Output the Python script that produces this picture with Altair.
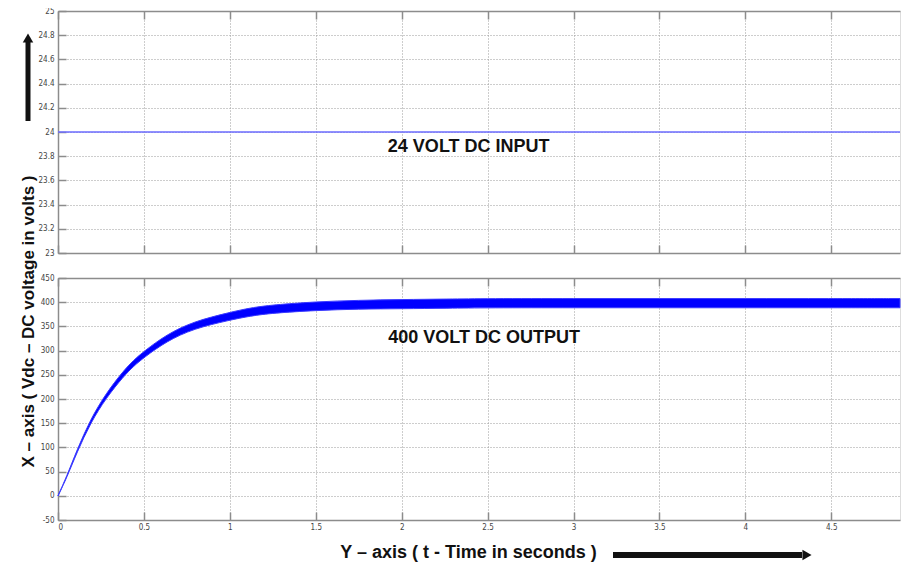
import altair as alt
import pandas as pd

# ---- data ----
t_out = [0, 0.05, 0.11, 0.19, 0.28, 0.38, 0.44, 0.5, 0.63, 0.79, 1.0, 1.12, 1.25, 1.5,
         1.75, 2.0, 2.27, 2.5, 3.0, 3.5, 4.0, 4.5, 4.9]
v_out = [0, 38, 92, 155, 207, 252, 274, 292, 326, 353, 371, 380, 386, 392,
         395, 396, 397, 398, 398, 398, 398, 398, 398]
ripple = [0.5, 1.5, 2.5, 4, 5, 6, 6.2, 6.5, 7, 7.5, 8, 8.5, 8.5, 9,
          9, 9.5, 9.5, 9.5, 9.5, 9.5, 9.5, 9.5, 9.5]

t_in = [0, 4.9]
v_in = [24, 24]

x_ticks = [0, 0.5, 1, 1.5, 2, 2.5, 3, 3.5, 4, 4.5]
y_ticks_top = [23, 23.2, 23.4, 23.6, 23.8, 24, 24.2, 24.4, 24.6, 24.8, 25]
y_ticks_bot = [-50, 0, 50, 100, 150, 200, 250, 300, 350, 400, 450]

label_in = ["24 VOLT DC INPUT"]
label_in_t = [2.39]
label_in_v = [23.88]
label_out = ["400 VOLT DC OUTPUT"]
label_out_t = [2.48]
label_out_v = [326]

y_title = "X – axis ( Vdc – DC voltage in volts )"
x_title = "Y – axis ( t - Time in seconds )"

# ---- tables ----
df_out = pd.DataFrame({
    "t": t_out,
    "lo": [v - r for v, r in zip(v_out, ripple)],
    "hi": [v + r for v, r in zip(v_out, ripple)],
})
df_in = pd.DataFrame({"t": t_in, "v": v_in})
df_lab_in = pd.DataFrame({"t": label_in_t, "v": label_in_v, "s": label_in})
df_lab_out = pd.DataFrame({"t": label_out_t, "v": label_out_v, "s": label_out})
one = pd.DataFrame({"a": [0]})

W, H = 842, 242
XDOM = [0, 4.9]
LABFONT = "DejaVu Sans Condensed, Liberation Sans Narrow, sans-serif"
BOLDFONT = "Liberation Sans, Arial, sans-serif"
GRID = dict(grid=True, gridColor="#9a9a9a", gridDash=[1, 2], gridWidth=1)
LBL = "'' + datum.value"
FRAME = "#8c8c8c"
LABSIZE = 8

xs = alt.Scale(domain=XDOM, nice=False, zero=False)
ys_top = alt.Scale(domain=[23, 25], nice=False, zero=False)
ys_bot = alt.Scale(domain=[-50, 450], nice=False, zero=False)


def tick_axis(orient, values):
    return alt.Axis(orient=orient, offset=-8, tickSize=8, tickColor=FRAME,
                    tickWidth=1.5, labels=False, domain=False, grid=False,
                    title=None, values=values)


def frame_axis(orient):
    return alt.Axis(orient=orient, ticks=False, labels=False, grid=False, title=None,
                    domain=True, domainColor=FRAME, domainWidth=1.5)


def tick_layers(data, xfield, yfield, ys, yvals):
    a = alt.Chart(data).mark_point(opacity=0).encode(
        x=alt.X(xfield, type="quantitative", scale=xs, axis=tick_axis("bottom", x_ticks)),
        y=alt.Y(yfield, type="quantitative", scale=ys, axis=tick_axis("left", yvals)),
    )
    b = alt.Chart(data).mark_point(opacity=0).encode(
        x=alt.X(xfield, type="quantitative", scale=xs, axis=tick_axis("top", x_ticks)),
        y=alt.Y(yfield, type="quantitative", scale=ys, axis=frame_axis("left")),
    )
    c = alt.Chart(data).mark_point(opacity=0).encode(
        x=alt.X(xfield, type="quantitative", scale=xs, axis=frame_axis("top")),
        y=alt.Y(yfield, type="quantitative", scale=ys, axis=None),
    )
    d = alt.Chart(data).mark_point(opacity=0).encode(
        x=alt.X(xfield, type="quantitative", scale=xs, axis=frame_axis("bottom")),
        y=alt.Y(yfield, type="quantitative", scale=ys, axis=None),
    )
    return [a, b, c, d]


# ---- top panel ----
top_line = alt.Chart(df_in).mark_line(color="#6b6bff", strokeWidth=1.3).encode(
    x=alt.X("t:Q", scale=xs, axis=alt.Axis(orient="bottom", labels=False, ticks=False,
                                           domain=False, title=None, values=x_ticks, **GRID)),
    y=alt.Y("v:Q", scale=ys_top, axis=alt.Axis(orient="left", values=y_ticks_top, labelExpr=LBL,
                                               ticks=False, domain=False, title=None,
                                               labelFont=LABFONT, labelFontSize=LABSIZE,
                                               labelColor="#444", labelPadding=4, **GRID)),
)
top_text = alt.Chart(df_lab_in).mark_text(font=BOLDFONT, fontSize=18, fontWeight="bold",
                                          color="#111").encode(
    x=alt.X("t:Q", scale=xs, axis=None), y=alt.Y("v:Q", scale=ys_top, axis=None), text="s:N")
up_shaft = alt.Chart(one).mark_rule(color="#111", strokeWidth=5).encode(
    x=alt.value(-30), y=alt.value(30), y2=alt.value(110))
up_head = alt.Chart(one).mark_point(shape="triangle-up", filled=True, color="#111",
                                    size=110, opacity=1).encode(
    x=alt.value(-30), y=alt.value(27))

top = alt.layer(top_line, top_text, *tick_layers(df_in, "t", "v", ys_top, y_ticks_top),
                up_shaft, up_head).resolve_axis(x="independent", y="independent").properties(
    width=W, height=H)

# ---- bottom panel ----
band = alt.Chart(df_out).mark_area(color="#0000ff", interpolate="basis",
                                   stroke="#3a3aff", strokeWidth=1).encode(
    x=alt.X("t:Q", scale=xs,
            axis=alt.Axis(orient="bottom", values=x_ticks, labelExpr=LBL, ticks=False,
                          domain=False, labelFont=LABFONT, labelFontSize=LABSIZE,
                          labelColor="#444", labelPadding=3, title=x_title, titleFont=BOLDFONT,
                          titleFontSize=18, titleFontWeight="bold", titleColor="#111",
                          titleX=410, titleY=32, titleAlign="center", titleBaseline="middle",
                          **GRID)),
    y=alt.Y("lo:Q", scale=ys_bot,
            axis=alt.Axis(orient="left", values=y_ticks_bot, labelExpr=LBL, ticks=False,
                          domain=False, labelFont=LABFONT, labelFontSize=LABSIZE,
                          labelColor="#444", labelPadding=4, title=y_title, titleFont=BOLDFONT,
                          titleFontSize=17, titleFontWeight="bold", titleColor="#111",
                          titleX=-30, titleY=43, titleAngle=270, titleAlign="center",
                          titleBaseline="middle", **GRID)),
    y2="hi:Q",
)
bot_text = alt.Chart(df_lab_out).mark_text(font=BOLDFONT, fontSize=18, fontWeight="bold",
                                           color="#111").encode(
    x=alt.X("t:Q", scale=xs, axis=None), y=alt.Y("v:Q", scale=ys_bot, axis=None), text="s:N")
right_shaft = alt.Chart(one).mark_rule(color="#111", strokeWidth=6).encode(
    x=alt.value(555), x2=alt.value(744), y=alt.value(277))
right_head = alt.Chart(one).mark_point(shape="triangle-right", filled=True, color="#111",
                                       size=110, opacity=1).encode(
    x=alt.value(749), y=alt.value(277))

bottom = alt.layer(band, bot_text, *tick_layers(df_out, "t", "lo", ys_bot, y_ticks_bot),
                   right_shaft, right_head).resolve_axis(
    x="independent", y="independent").properties(width=W, height=H)

chart = alt.vconcat(top, bottom, spacing=25, bounds="flush").properties(
    padding={"left": 10, "top": -2, "right": 0, "bottom": 0}
).configure_view(stroke=None).configure(background="white")

chart.save("out.html", embed_options={"renderer": "svg", "actions": False})
